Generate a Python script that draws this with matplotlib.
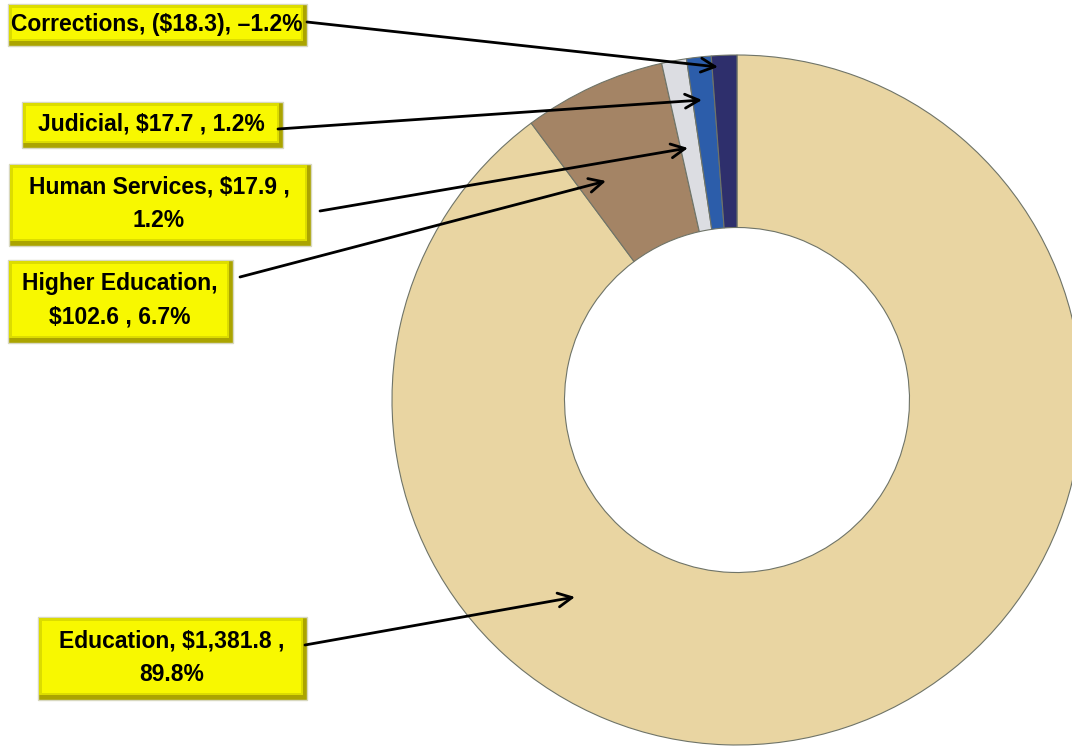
import matplotlib
matplotlib.use("Agg")
import matplotlib.pyplot as plt
from matplotlib.patches import Rectangle

categories = ["Education", "Higher Education", "Human Services", "Judicial", "Corrections"]
amounts = [1381.8, 102.6, 17.9, 17.7, -18.3]
percents = [89.8, 6.7, 1.2, 1.2, -1.2]
label_texts = [
    "Education, $1,381.8 ,\n89.8%",
    "Higher Education,\n$102.6 , 6.7%",
    "Human Services, $17.9 ,\n1.2%",
    "Judicial, $17.7 , 1.2%",
    "Corrections, ($18.3), \u20131.2%",
]

colors = ["#E9D5A2", "#A48465", "#DCDDE2", "#2C5DAA", "#2E2F6C"]

W, H = 1072, 746
fig = plt.figure(figsize=(W / 100, H / 100), dpi=100)
ax = fig.add_axes([0, 0, 1, 1])

cx, cy, R = 737, 400, 345
sizes = [abs(a) for a in amounts]
wedges, _ = ax.pie(sizes, colors=colors, startangle=-90, counterclock=True,
                   center=(cx, cy), radius=R,
                   wedgeprops=dict(width=R * 0.5, edgecolor="#6F7468", linewidth=0.8))
ax.set_xlim(0, W)
ax.set_ylim(H, 0)
ax.axis("off")

boxes = [
    (38, 617, 307, 700),
    (8, 260, 233, 343),
    (9, 164, 311, 246),
    (22, 102, 283, 148),
    (8, 4, 307, 46),
]
arrow_from = [(305, 645), (240, 277), (320, 211), (278, 129), (307, 22)]
arrow_to = [(575, 597), (606, 181), (688, 148), (702, 100), (718, 67)]

for (x0, y0, x1, y1), txt in zip(boxes, label_texts):
    ax.add_patch(Rectangle((x0, y0), x1 - x0, y1 - y0, facecolor="#ABA400",
                           edgecolor="#D8D8C0", linewidth=1.0, zorder=5))
    ax.add_patch(Rectangle((x0 + 1, y0 + 1), x1 - x0 - 5, y1 - y0 - 6,
                           facecolor="#DCDC00", edgecolor="none", zorder=6))
    ax.add_patch(Rectangle((x0 + 4, y0 + 4), x1 - x0 - 10, y1 - y0 - 11,
                           facecolor="#F8F800", edgecolor="none", zorder=7))
    ax.text((x0 + x1) / 2 - 1, (y0 + y1) / 2 - 1, txt, ha="center", va="center",
            fontsize=16.5, fontweight="bold", color="black", linespacing=1.6, zorder=8,
            family=["Liberation Sans", "DejaVu Sans"])

for s, e in zip(arrow_from, arrow_to):
    ax.annotate("", xy=e, xytext=s,
                arrowprops=dict(arrowstyle="->", color="black", lw=2,
                                mutation_scale=25, shrinkA=0, shrinkB=0),
                zorder=9)

fig.savefig("out.png", dpi=100)
